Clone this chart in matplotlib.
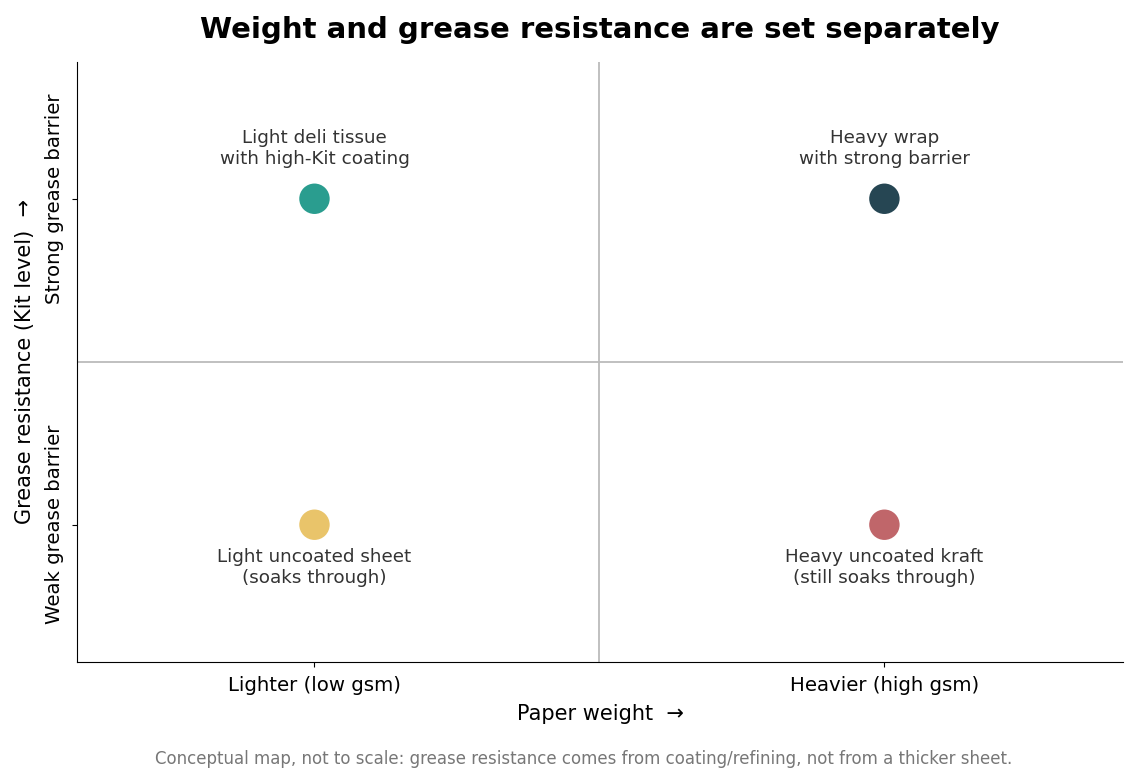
import matplotlib
matplotlib.use("Agg")
import matplotlib.pyplot as plt

# conceptual quadrant positions (0 = low, 1 = high)
weights = [0, 1, 0, 1]
barriers = [1, 1, 0, 0]
labels = [
    "Light deli tissue\nwith high-Kit coating",
    "Heavy wrap\nwith strong barrier",
    "Light uncoated sheet\n(soaks through)",
    "Heavy uncoated kraft\n(still soaks through)",
]
colors = ["#2a9d8f", "#264653", "#e9c46a", "#c0666a"]
x_ticklabels = ["Lighter (low gsm)", "Heavier (high gsm)"]
y_ticklabels = ["Weak grease barrier", "Strong grease barrier"]

fig, ax = plt.subplots(figsize=(11.38, 7.83), dpi=100)
fig.subplots_adjust(left=0.068, right=0.987, top=0.921, bottom=0.155)

ax.axvline(0.5, color="#bbbbbb", lw=1.3, zorder=1)
ax.axhline(0.5, color="#bbbbbb", lw=1.3, zorder=1)

ax.scatter(weights, barriers, s=480, c=colors, zorder=3, edgecolors="none")

for x, y, lab in zip(weights, barriers, labels):
    dy = 0.153 if y == 1 else -0.13
    ax.text(x, y + dy, lab, ha="center", va="center", fontsize=13.2,
            color="#333333", linespacing=1.22)

ax.set_xlim(-0.416, 1.419)
ax.set_ylim(-0.42, 1.42)
ax.set_xticks([0, 1])
ax.set_xticklabels(x_ticklabels, fontsize=14.2)
ax.set_yticks([0, 1])
ax.set_yticklabels(y_ticklabels, fontsize=14.2, rotation=90, va="center")
ax.tick_params(axis="x", pad=7)
ax.tick_params(axis="y", pad=6)

ax.set_xlabel("Paper weight  \u2192", fontsize=15, labelpad=6)
ax.set_ylabel("Grease resistance (Kit level)  \u2192", fontsize=15, labelpad=7)
ax.set_title("Weight and grease resistance are set separately",
             fontsize=21, fontweight="bold", pad=17)

for side in ["top", "right"]:
    ax.spines[side].set_visible(False)

fig.text(0.513, 0.031, "Conceptual map, not to scale: grease resistance comes from "
         "coating/refining, not from a thicker sheet.",
         ha="center", va="center", fontsize=12, color="#777777")

fig.savefig("out.png", dpi=100)
